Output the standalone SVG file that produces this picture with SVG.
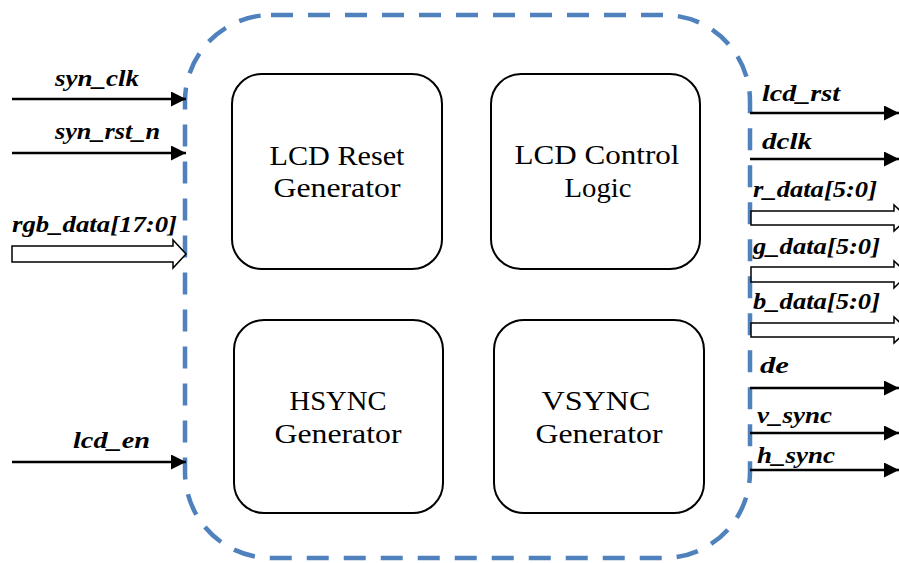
<svg xmlns="http://www.w3.org/2000/svg" width="899" height="563" viewBox="0 0 899 563">
<defs>
<style>
.bound{fill:none;stroke:#4f81bd;stroke-width:4.5;stroke-dasharray:22 15}
.box{fill:#fff;stroke:#000;stroke-width:2}
.bt{font-family:"Liberation Serif","DejaVu Serif",serif;font-size:28px;fill:#000;text-anchor:middle}
.lb{font-family:"Liberation Serif","DejaVu Serif",serif;font-size:24px;font-weight:bold;font-style:italic;fill:#000}
.w{stroke:#000;stroke-width:2.5;fill:none}
.bus{fill:#fff;stroke:#000;stroke-width:1.5}
</style>
<marker id="ah" viewBox="0 0 10 10" refX="10" refY="5" markerWidth="6.5" markerHeight="6" markerUnits="strokeWidth" orient="auto">
<path d="M0,0 L10,5 L0,10 Z" fill="#000"/>
</marker>
</defs>
<rect x="0" y="0" width="899" height="563" fill="#fff"/>
<g id="boundary">
<rect class="bound" x="185" y="15" width="565" height="543" rx="86" ry="86"/>
</g>
<g id="lcd_reset_gen">
<rect class="box" x="232" y="74" width="210" height="195" rx="30"/>
<text class="bt" x="337" y="165" textLength="135" lengthAdjust="spacingAndGlyphs">LCD Reset</text>
<text class="bt" x="337" y="197" textLength="127" lengthAdjust="spacingAndGlyphs">Generator</text>
</g>
<g id="lcd_ctrl">
<rect class="box" x="491" y="74" width="209" height="195" rx="30"/>
<text class="bt" x="597" y="164" textLength="165" lengthAdjust="spacingAndGlyphs">LCD Control</text>
<text class="bt" x="598" y="197" textLength="67" lengthAdjust="spacingAndGlyphs">Logic</text>
</g>
<g id="hsync_gen">
<rect class="box" x="234" y="320" width="209" height="193" rx="30"/>
<text class="bt" x="338" y="410" textLength="97" lengthAdjust="spacingAndGlyphs">HSYNC</text>
<text class="bt" x="338" y="443" textLength="127" lengthAdjust="spacingAndGlyphs">Generator</text>
</g>
<g id="vsync_gen">
<rect class="box" x="494" y="320" width="210" height="193" rx="30"/>
<text class="bt" x="596" y="410" textLength="109" lengthAdjust="spacingAndGlyphs">VSYNC</text>
<text class="bt" x="599" y="443" textLength="127" lengthAdjust="spacingAndGlyphs">Generator</text>
</g>
<g id="connectors">
<line class="w" x1="12" y1="99" x2="186" y2="99" marker-end="url(#ah)"/>
<line class="w" x1="12" y1="153" x2="186" y2="153" marker-end="url(#ah)"/>
<polygon class="bus" points="12,246 173,246 173,240 186,254 173,268 173,262 12,262"/>
<line class="w" x1="12" y1="462" x2="186" y2="462" marker-end="url(#ah)"/>
<line class="w" x1="750" y1="113" x2="899" y2="113" marker-end="url(#ah)"/>
<line class="w" x1="750" y1="159" x2="899" y2="159" marker-end="url(#ah)"/>
<polygon class="bus" points="751,211 894,211 894,205 908,218 894,231 894,225 751,225"/>
<polygon class="bus" points="751,267 894,267 894,261 908,274 894,288 894,282 751,282"/>
<polygon class="bus" points="751,323 894,323 894,317 908,330 894,343 894,337 751,337"/>
<line class="w" x1="750" y1="388" x2="899" y2="388" marker-end="url(#ah)"/>
<line class="w" x1="750" y1="433" x2="899" y2="433" marker-end="url(#ah)"/>
<line class="w" x1="750" y1="470" x2="899" y2="470" marker-end="url(#ah)"/>
</g>
<g id="labels">
<text class="lb" x="55" y="86" textLength="84" lengthAdjust="spacingAndGlyphs">syn_clk</text>
<text class="lb" x="55" y="139" textLength="105" lengthAdjust="spacingAndGlyphs">syn_rst_n</text>
<text class="lb" x="12" y="232" textLength="165" lengthAdjust="spacingAndGlyphs">rgb_data[17:0]</text>
<text class="lb" x="73" y="448" textLength="77" lengthAdjust="spacingAndGlyphs">lcd_en</text>
<text class="lb" x="762" y="101" textLength="78" lengthAdjust="spacingAndGlyphs">lcd_rst</text>
<text class="lb" x="762" y="149" textLength="50" lengthAdjust="spacingAndGlyphs">dclk</text>
<text class="lb" x="753" y="197" textLength="124" lengthAdjust="spacingAndGlyphs">r_data[5:0]</text>
<text class="lb" x="753" y="254" textLength="127" lengthAdjust="spacingAndGlyphs">g_data[5:0]</text>
<text class="lb" x="753" y="309" textLength="127" lengthAdjust="spacingAndGlyphs">b_data[5:0]</text>
<text class="lb" x="760" y="373" textLength="29" lengthAdjust="spacingAndGlyphs">de</text>
<text class="lb" x="757" y="423" textLength="75" lengthAdjust="spacingAndGlyphs">v_sync</text>
<text class="lb" x="757" y="463" textLength="78" lengthAdjust="spacingAndGlyphs">h_sync</text>
</g>
</svg>
